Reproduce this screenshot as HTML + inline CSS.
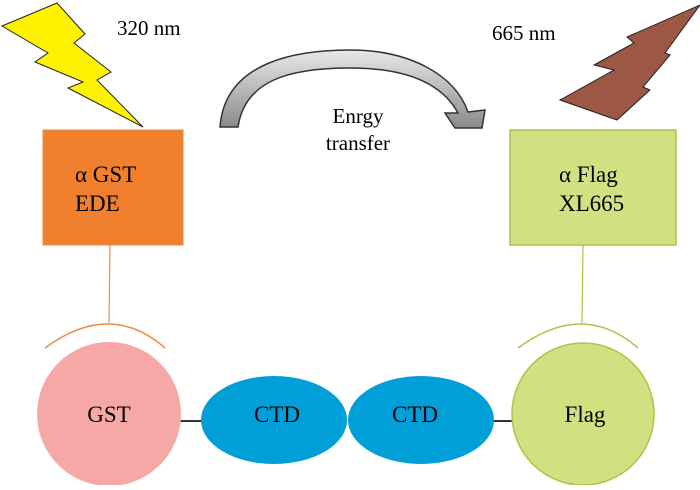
<!DOCTYPE html>
<html><head><style>body{margin:0;background:#fff}</style></head><body>
<svg width="700" height="485" viewBox="0 0 700 485" xmlns="http://www.w3.org/2000/svg" font-family="Liberation Serif, serif">
<defs>
<linearGradient id="g" x1="0" y1="0" x2="0" y2="1"><stop offset="0" stop-color="#e8e8e8"/><stop offset="1" stop-color="#8a8a8a"/></linearGradient>
</defs>
<polygon points="2,26 57,3 85,34 74,43 111,72 97,80 143,127 68,88 83,82 35,62 48,53" fill="#fff200" stroke="#222" stroke-width="1"/>
<polygon points="560,100 614,70 594,65 634,43 627,37 700,5 665,53 670,55 643,87 650,90 617,120" fill="#9c5745" stroke="#222" stroke-width="1"/>
<text x="117" y="35" font-size="21">320 nm</text>
<text x="492" y="40" font-size="21">665 nm</text>
<path d="M220,127 C225,60 300,50 350,50 C410,50 455,75 468,112 L485,110 L482,128 L455,128 L445,113 L458,113 C440,80 400,68 350,68 C290,68 245,80 238,127 Z" fill="url(#g)" stroke="#333" stroke-width="1.5"/>
<text x="358" y="123" font-size="21" text-anchor="middle">Enrgy</text>
<text x="358" y="150" font-size="21" text-anchor="middle">transfer</text>
<rect x="43" y="130" width="140" height="115" fill="#f07f2e" stroke="#f08a40"/>
<text x="75" y="182" font-size="23">α GST</text>
<text x="75" y="211" font-size="23">EDE</text>
<rect x="510" y="130" width="166" height="115" fill="#d2e082" stroke="#a6c64a" stroke-width="1.5"/>
<text x="559" y="182" font-size="23">α Flag</text>
<text x="559" y="211" font-size="23">XL665</text>
<line x1="110" y1="245" x2="109" y2="323" stroke="#f08a40" stroke-width="1.2"/>
<path d="M45,348 Q110,300 165,348" fill="none" stroke="#f08a40" stroke-width="1.5"/>
<line x1="583" y1="245" x2="582" y2="323" stroke="#a6c64a" stroke-width="1.2"/>
<path d="M518,348 Q583,300 638,348" fill="none" stroke="#a6c64a" stroke-width="1.5"/>
<line x1="180" y1="421" x2="203" y2="421" stroke="#333" stroke-width="2"/>
<line x1="492" y1="421" x2="513" y2="421" stroke="#333" stroke-width="2"/>
<ellipse cx="109" cy="414" rx="72" ry="72" fill="#f6a8a6"/>
<ellipse cx="274" cy="420" rx="73" ry="44" fill="#009fd7"/>
<ellipse cx="421" cy="420" rx="73" ry="44" fill="#009fd7"/>
<ellipse cx="583" cy="414" rx="71" ry="71" fill="#d2e082" stroke="#a6c64a" stroke-width="1.5"/>
<text x="109" y="422" font-size="23" text-anchor="middle">GST</text>
<text x="277" y="422" font-size="23" text-anchor="middle">CTD</text>
<text x="415" y="422" font-size="23" text-anchor="middle">CTD</text>
<text x="585" y="422" font-size="23" text-anchor="middle">Flag</text>
</svg>
</body></html>
